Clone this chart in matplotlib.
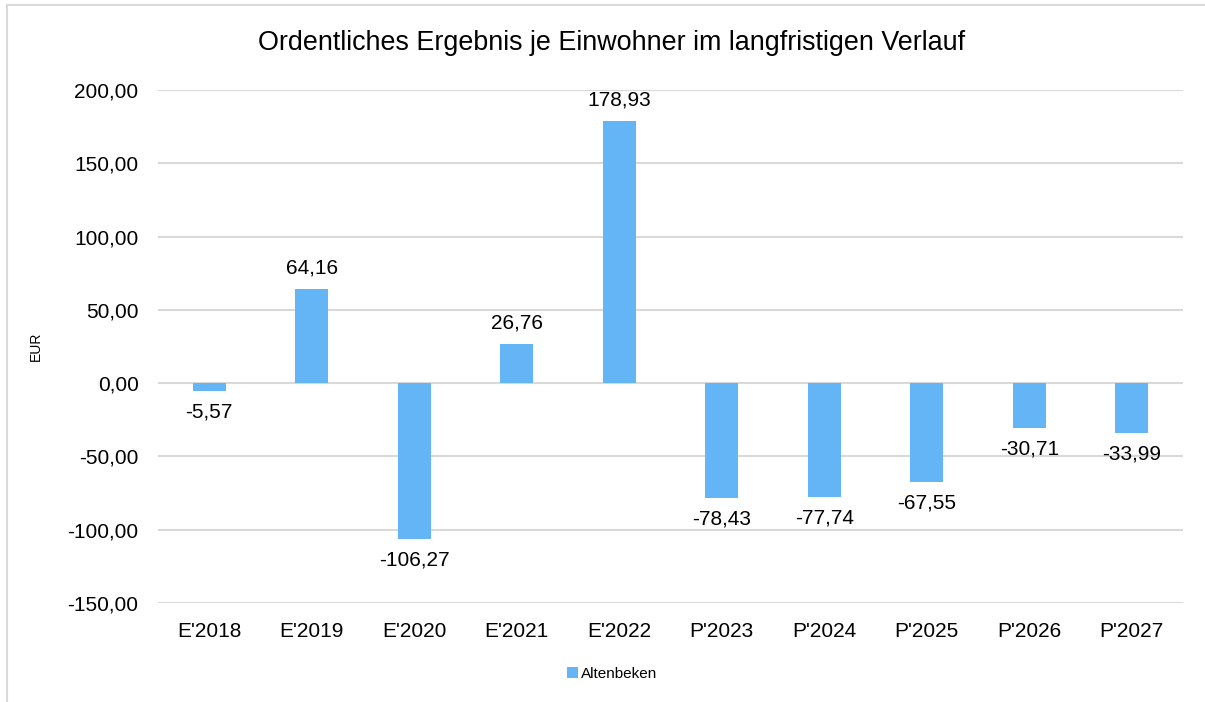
import matplotlib.pyplot as plt
from matplotlib.patches import Rectangle

plt.rcParams['font.family'] = ['Liberation Sans', 'DejaVu Sans']

categories = ["E'2018", "E'2019", "E'2020", "E'2021", "E'2022",
              "P'2023", "P'2024", "P'2025", "P'2026", "P'2027"]
values = [-5.57, 64.16, -106.27, 26.76, 178.93,
          -78.43, -77.74, -67.55, -30.71, -33.99]
y_ticks = [-150, -100, -50, 0, 50, 100, 150, 200]

bar_color = '#63B5F5'


def de_fmt(v):
    return f'{v:,.2f}'.replace(',', 'X').replace('.', ',').replace('X', '.')


fig = plt.figure(figsize=(12.05, 7.02), dpi=100)
ax = fig.add_axes([158 / 1205, 1 - 603 / 702, 1025 / 1205, 513 / 702])

x = list(range(len(categories)))
bars = ax.bar(x, values, width=0.32, color=bar_color, label='Altenbeken', zorder=3)

for xi, v in zip(x, values):
    if v >= 0:
        ax.annotate(de_fmt(v), (xi, v), xytext=(0, 8), textcoords='offset points',
                    ha='center', va='bottom', fontsize=15)
    else:
        ax.annotate(de_fmt(v), (xi, v), xytext=(0, -8), textcoords='offset points',
                    ha='center', va='top', fontsize=15)

ax.set_xlim(-0.5, len(categories) - 0.5)
ax.set_ylim(-150, 200)
ax.set_yticks(y_ticks)
ax.set_yticklabels([de_fmt(t) for t in y_ticks], fontsize=15)
ax.set_xticks(x)
ax.set_xticklabels(categories, fontsize=15)
ax.tick_params(length=0, pad=14)
ax.tick_params(axis='y', pad=14)
ax.grid(axis='y', color='#D9D9D9', linewidth=1.5, zorder=0)
for s in ax.spines.values():
    s.set_visible(False)

ax.set_ylabel('EUR', fontsize=10)
ax.yaxis.set_label_coords(-0.112, 0.5)

fig.text(612 / 1205, 1 - 43 / 702, 'Ordentliches Ergebnis je Einwohner im langfristigen Verlauf',
         ha='center', va='center', fontsize=19.4)

fig.legend(loc='center', bbox_to_anchor=(612 / 1205, 1 - 674 / 702), frameon=False,
           fontsize=11, handlelength=0.7, handleheight=0.7, handletextpad=0.2)

fig.patches.append(Rectangle((7 / 1205, -0.01), 1.1, 1 - 5 / 702 + 0.01, transform=fig.transFigure,
                             fill=False, edgecolor='#D9D9D9', linewidth=1.5))

fig.savefig('out.png', dpi=100)
